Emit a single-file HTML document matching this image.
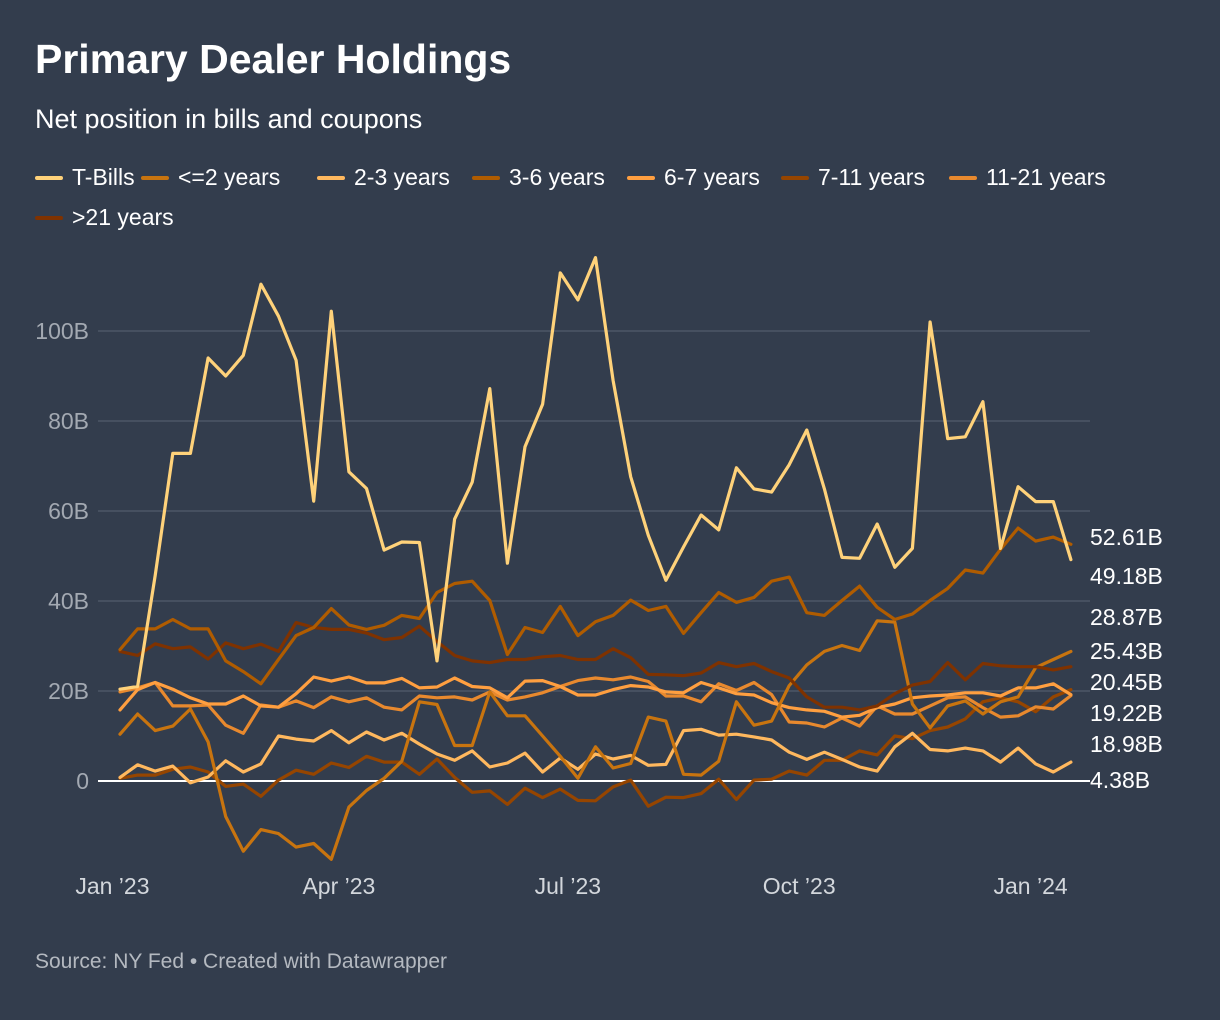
<!DOCTYPE html>
<html><head><meta charset="utf-8">
<style>
html,body{margin:0;padding:0;background:#333d4d;}
body{width:1220px;height:1020px;position:relative;overflow:hidden;font-family:"Liberation Sans",sans-serif;color:#fff;}
#title{position:absolute;left:35px;top:36px;font-size:41px;font-weight:bold;margin:0;}
#subtitle{position:absolute;left:35px;top:104px;font-size:27px;}
.leg{position:absolute;font-size:23px;display:flex;align-items:center;}
.sw{display:inline-block;width:28px;height:4px;border-radius:2px;margin-right:9px;}
#source{position:absolute;left:35px;top:950px;font-size:21px;color:#b4b9c0;}
svg{position:absolute;left:0;top:0;}
</style></head><body>
<h1 id="title">Primary Dealer Holdings</h1>
<div id="subtitle">Net position in bills and coupons</div>
<div id="legend">
<div class="leg" style="left:35px;top:164px"><span class="sw" style="background:#ffd27a"></span>T-Bills</div>
<div class="leg" style="left:141px;top:164px"><span class="sw" style="background:#c8740f"></span>&lt;=2 years</div>
<div class="leg" style="left:317px;top:164px"><span class="sw" style="background:#ffb85e"></span>2-3 years</div>
<div class="leg" style="left:472px;top:164px"><span class="sw" style="background:#b05c00"></span>3-6 years</div>
<div class="leg" style="left:627px;top:164px"><span class="sw" style="background:#ff9f40"></span>6-7 years</div>
<div class="leg" style="left:781px;top:164px"><span class="sw" style="background:#964500"></span>7-11 years</div>
<div class="leg" style="left:949px;top:164px"><span class="sw" style="background:#e8892e"></span>11-21 years</div>
<div class="leg" style="left:35px;top:204px"><span class="sw" style="background:#7f3200"></span>&gt;21 years</div>
</div>
<svg id="chart" width="1220" height="1020"></svg>
<div id="source">Source: NY Fed • Created with Datawrapper</div>
<script>
const seriesNames = ["7-11 years","2-3 years","11-21 years","6-7 years","<=2 years",">21 years","3-6 years","T-Bills"];
const seriesColors = ["#964500","#ffb85e","#e8892e","#ff9f40","#c8740f","#7f3200","#b05c00","#ffd27a"];
const tBills = [20.4,21,45.7,72.8,72.8,94,90,94.6,110.4,103.3,93.5,62.2,104.4,68.7,65,51.3,53.1,53,26.7,58.2,66.4,87.2,48.4,74.3,83.7,112.9,106.9,116.3,89,67.6,54.6,44.6,52,59.1,55.8,69.6,64.9,64.2,70.3,78,64.9,49.7,49.5,57.1,47.5,51.7,102,76.1,76.5,84.3,51.7,65.4,62.1,62.1,49.2];
const y3to6 = [29.2,33.8,33.8,35.9,33.8,33.8,26.7,24.3,21.6,27,32.3,34.1,38.3,34.7,33.7,34.6,36.8,36.1,41.9,43.9,44.4,40.1,28.1,34.1,33,38.8,32.3,35.4,36.8,40.2,37.9,38.8,32.8,37.4,41.9,39.7,40.8,44.4,45.3,37.4,36.8,40.1,43.3,38.6,35.9,37.1,40.1,42.8,46.9,46.2,51.5,56.2,53.3,54.2,52.6];
const y21plus = [28.8,27.9,30.5,29.4,29.8,27.1,30.7,29.4,30.4,28.8,35.2,34.1,33.7,33.7,32.9,31.4,31.9,34.4,31,27.9,26.7,26.3,27,27,27.6,27.9,27,27,29.4,27.4,23.7,23.6,23.4,24,26.3,25.4,26.1,24.3,22.9,18.7,16.4,16.4,15.8,16.7,19.4,21.3,22.1,26.3,22.5,26.1,25.6,25.4,25.4,24.7,25.4];
const y0to2 = [10.4,14.9,11.2,12.2,16,8.7,-7.9,-15.6,-10.8,-11.7,-14.7,-13.9,-17.4,-5.8,-2.1,0.6,4.4,17.6,17,7.9,7.9,19.8,14.5,14.5,10,5.5,0.6,7.6,2.9,3.9,14.2,13.3,1.5,1.3,4.4,17.6,12.4,13.3,21.2,25.8,28.8,30.1,29,35.6,35.3,17.1,11.8,16.7,17.8,14.9,17.6,18.7,25.2,27,28.8];
const y7to11 = [0.6,1.3,1.3,2.6,3.1,2,-1.2,-0.7,-3.4,0.2,2.4,1.5,4,3,5.5,4.2,4.2,1.5,4.9,0.8,-2.5,-2.2,-5.2,-1.6,-3.7,-1.8,-4.3,-4.4,-1.3,0.2,-5.6,-3.6,-3.7,-2.8,0.4,-4.1,0.2,0.4,2.2,1.3,4.6,4.6,6.7,5.8,10,9.4,11.2,12,13.8,17.6,18.5,17.6,15.4,18.7,20.3];
const y2to3 = [0.8,3.6,2.2,3.3,-0.4,0.9,4.5,2,3.8,10,9.3,8.9,11.2,8.5,10.9,9.1,10.6,8.2,6,4.6,6.7,3.1,4,6.2,2,5.1,2.6,6,4.9,5.7,3.5,3.7,11.2,11.5,10.2,10.4,9.8,9.1,6.4,4.8,6.4,4.8,3.1,2.2,7.6,10.6,7,6.7,7.3,6.7,4.2,7.3,3.8,2,4.2];
const y6to7 = [15.8,20.3,21.9,20.4,18.5,17.1,17.1,18.9,16.7,16.4,19.4,23.1,22.2,23.1,21.8,21.8,22.8,20.7,20.9,22.9,21,20.7,18.5,22.2,22.3,21,19.1,19.1,20.3,21.2,20.9,19.8,19.6,21.9,20.7,19.4,19.1,17.4,16.3,15.8,15.5,14.2,14.6,16.3,17.1,18.5,18.9,19.1,19.6,19.6,18.9,20.7,20.7,21.6,19.2];
const y11to21 = [19.8,20.7,21.9,16.7,16.7,16.9,12.4,10.6,16.9,16.4,17.8,16.3,18.7,17.6,18.5,16.4,15.8,18.9,18.5,18.7,18,19.8,18,18.7,19.6,21,22.3,22.9,22.5,23.1,22.1,18.9,18.9,17.6,21.6,20.1,21.9,19.2,13.1,12.9,12,14,12.2,16.7,14.9,14.9,16.7,18.5,18.7,16.3,14.2,14.5,16.5,16,18.98];
const endLabels = ["52.61B","49.18B","28.87B","25.43B","20.45B","19.22B","18.98B","4.38B"];
const yTicks = [0,20,40,60,80,100];
const yTickLabels = ["0","20B","40B","60B","80B","100B"];
const xTickWeeks = [-0.43,12.43,25.43,38.57,51.71];
const xTickLabels = ["Jan ’23","Apr ’23","Jul ’23","Oct ’23","Jan ’24"];

const seriesData = [y7to11,y2to3,y11to21,y6to7,y0to2,y21plus,y3to6,tBills];
const NS="http://www.w3.org/2000/svg";
const svg=document.getElementById('chart');
const xS=i=>120+i*17.61;
const yS=v=>781-v*4.5;
function mk(t,a){const e=document.createElementNS(NS,t);for(const k in a)e.setAttribute(k,a[k]);svg.appendChild(e);return e;}
yTicks.forEach((v,k)=>{
  const l=mk('line',{x1:98,x2:1090,y1:yS(v),y2:yS(v),stroke:v===0?'#ffffff':'#4d5666','stroke-width':v===0?2:1.5});
  
  
  const t=mk('text',{x:89,y:yS(v)+8,'text-anchor':'end','font-size':23,fill:'#a3a9b2','font-family':'Liberation Sans, sans-serif'});
  t.textContent=yTickLabels[k];
  
  
});
xTickWeeks.forEach((w,k)=>{
  const t=mk('text',{x:xS(w),y:894,'text-anchor':'middle','font-size':23,fill:'#d3d7dc','font-family':'Liberation Sans, sans-serif'});
  t.textContent=xTickLabels[k];
  
  
});
seriesData.forEach((d,s)=>{
  const p=mk('polyline',{points:d.map((v,i)=>xS(i).toFixed(1)+','+yS(v).toFixed(1)).join(' '),fill:'none',stroke:seriesColors[s],'stroke-width':3.2,'stroke-linejoin':'round','stroke-linecap':'round'});
  
  
});
const labelY=[537,576,617,651,682,713,744,780];
endLabels.forEach((txt,k)=>{
  const t=mk('text',{x:1090,y:labelY[k]+8,'font-size':23,fill:'#ffffff','font-family':'Liberation Sans, sans-serif'});
  t.textContent=txt;
  
  
});
</script>
</body></html>
